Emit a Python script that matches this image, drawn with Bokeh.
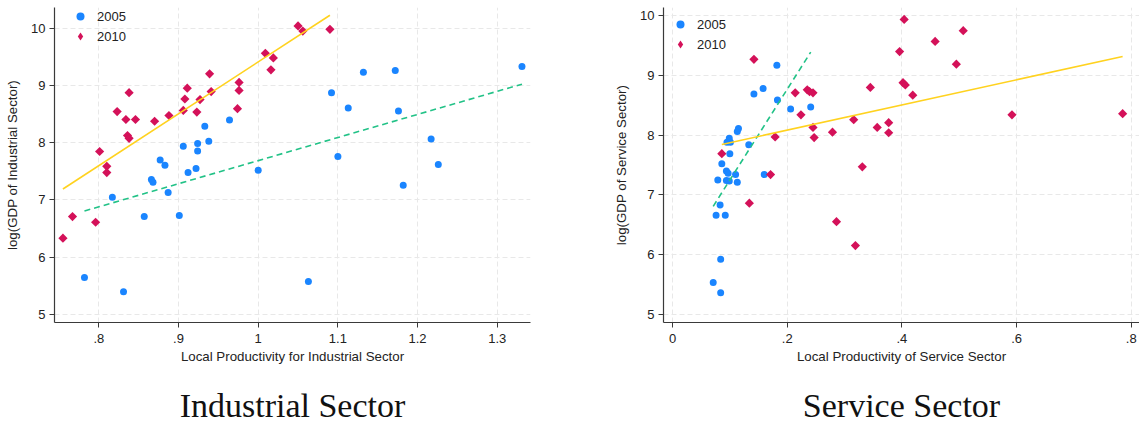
import numpy as np
from bokeh.plotting import figure
from bokeh.models import Range1d, FixedTicker, Legend, LegendItem, LinearAxis
from bokeh.layouts import row
from bokeh.embed import file_html
from bokeh.resources import INLINE

# ---------------- data ----------------
ind05_x = [0.817, 0.866, 0.868, 0.877, 0.883, 0.887, 0.906, 0.912, 0.922, 0.924,
           0.924, 0.933, 0.938, 0.964, 1.000, 1.092, 1.113, 1.132, 1.172, 1.176,
           1.100, 1.217, 1.226, 1.182, 1.331, 0.857, 0.901, 0.782, 0.831, 1.063]
ind05_y = [7.05, 7.36, 7.31, 7.70, 7.61, 7.13, 7.94, 7.48, 7.55, 7.99,
           7.86, 8.29, 8.03, 8.40, 7.52, 8.88, 8.61, 9.24, 9.27, 8.56,
           7.76, 8.07, 7.62, 7.26, 9.34, 6.71, 6.73, 5.64, 5.39, 5.57]

ind10_x = [0.801, 0.810, 0.810, 0.823, 0.834, 0.838, 0.836, 0.838, 0.846, 0.870,
           0.888, 0.906, 0.908, 0.911, 0.923, 0.927, 0.939, 0.941, 0.974, 0.976,
           0.976, 1.009, 1.019, 1.016, 1.050, 1.056, 1.090, 0.755, 0.767, 0.796]
ind10_y = [7.85, 7.59, 7.48, 8.55, 8.41, 8.88, 8.13, 8.08, 8.41, 8.38,
           8.48, 8.57, 8.77, 8.96, 8.54, 8.76, 9.21, 8.90, 8.60, 9.06,
           8.92, 9.57, 9.49, 9.28, 10.05, 9.96, 9.99, 6.33, 6.71, 6.61]

srv05_x = [0.079, 0.086, 0.094, 0.097, 0.094, 0.099, 0.095, 0.099, 0.101, 0.100,
           0.110, 0.113, 0.113, 0.115, 0.133, 0.142, 0.158, 0.160, 0.182, 0.183,
           0.206, 0.241, 0.083, 0.076, 0.092, 0.084, 0.071, 0.084]
srv05_y = [7.25, 7.52, 7.40, 7.36, 7.24, 7.23, 7.88, 7.95, 7.88, 7.69,
           7.34, 7.21, 8.06, 8.11, 7.84, 8.69, 8.78, 7.34, 9.17, 8.59,
           8.44, 8.47, 6.83, 6.66, 6.66, 5.92, 5.53, 5.36]

srv10_x = [0.086, 0.142, 0.134, 0.171, 0.179, 0.214, 0.224, 0.235, 0.239, 0.245,
           0.245, 0.247, 0.279, 0.316, 0.331, 0.345, 0.357, 0.286, 0.319, 0.377,
           0.377, 0.396, 0.402, 0.406, 0.404, 0.419, 0.458, 0.495, 0.507, 0.592,
           0.785]
srv10_y = [7.69, 9.27, 6.86, 7.34, 7.97, 8.71, 8.34, 8.76, 8.73, 8.71,
           8.13, 7.96, 8.05, 8.26, 7.47, 8.80, 8.13, 6.55, 6.15, 8.21,
           8.04, 9.40, 8.88, 8.84, 9.94, 8.67, 9.57, 9.19, 9.75, 8.34,
           8.36]

series_labels = ["2005", "2010"]
y_ticks = [5, 6, 7, 8, 9, 10]
y_labels = ["5", "6", "7", "8", "9", "10"]
ind_x_ticks = [0.8, 0.9, 1.0, 1.1, 1.2, 1.3]
ind_x_labels = [".8", ".9", "1", "1.1", "1.2", "1.3"]
srv_x_ticks = [0.0, 0.2, 0.4, 0.6, 0.8]
srv_x_labels = ["0", ".2", ".4", ".6", ".8"]

BLUE = "#1A85FF"
RED = "#D41159"
GREEN = "#22C287"
YELLOW = "#FFD21F"
AXIS = "#3a3a3a"
GRID = "#E8E8E8"
SANS = "Liberation Sans"
SERIF = "Liberation Serif"


def panel(x05, y05, x10, y10, xr, yr, xticks, xlabels, xlabel, ylabel, title,
          width, border_left, border_right, legend_loc):
    p = figure(width=width, height=426, x_range=Range1d(*xr), y_range=Range1d(*yr),
               output_backend="svg", toolbar_location=None,
               min_border_left=border_left, min_border_right=border_right,
               min_border_top=7, min_border_bottom=104)
    p.outline_line_color = None
    p.background_fill_color = "white"
    p.border_fill_color = "white"

    p.xaxis.ticker = FixedTicker(ticks=xticks)
    p.yaxis.ticker = FixedTicker(ticks=y_ticks)
    p.xaxis.major_label_overrides = dict(zip(xticks, xlabels))
    p.yaxis.major_label_overrides = dict(zip(y_ticks, y_labels))
    p.xgrid.ticker = FixedTicker(ticks=xticks)
    p.ygrid.ticker = FixedTicker(ticks=y_ticks)
    p.grid.grid_line_color = GRID
    p.grid.grid_line_dash = "5 3"
    p.grid.grid_line_width = 1

    for ax in (p.xaxis, p.yaxis):
        ax.axis_line_color = AXIS
        ax.axis_line_width = 1.2
        ax.major_tick_line_color = AXIS
        ax.major_tick_in = 0
        ax.major_tick_out = 5
        ax.minor_tick_line_color = None
        ax.major_label_text_font = SANS
        ax.major_label_text_font_size = "13px"
        ax.major_label_text_color = "#222222"
        ax.axis_label_text_font = SANS
        ax.axis_label_text_font_size = "13.3px"
        ax.axis_label_text_font_style = "normal"
        ax.axis_label_text_color = "#222222"
    p.xaxis.major_label_standoff = 6
    p.yaxis.major_label_standoff = 4
    p.xaxis.axis_label = xlabel
    p.yaxis.axis_label = ylabel
    p.xaxis.axis_label_standoff = 3
    p.yaxis.axis_label_standoff = 8
    p.yaxis.major_label_orientation = "horizontal"

    r05 = p.scatter(x05, y05, marker="circle", size=7, color=BLUE, line_color=None)
    p.scatter(x10, y10, marker="square", angle=np.pi / 4, size=6.5,
              color=RED, line_color=None)
    # legend key only (Bokeh never rotates legend glyphs); NaN point is not drawn
    r10_key = p.scatter(x=[np.nan], y=[np.nan], marker="diamond", size=9,
                        color=RED, line_color=None)

    # linear fits computed from the data
    b05, a05 = np.polyfit(x05, y05, 1)
    xs05 = np.array([min(x05), max(x05)])
    p.line(xs05, a05 + b05 * xs05, line_color=GREEN, line_width=1.6, line_dash="6 4")
    b10, a10 = np.polyfit(x10, y10, 1)
    xs10 = np.array([min(x10), max(x10)])
    p.line(xs10, a10 + b10 * xs10, line_color=YELLOW, line_width=1.6)

    legend = Legend(items=[LegendItem(label=series_labels[0], renderers=[r05]),
                           LegendItem(label=series_labels[1], renderers=[r10_key])],
                    location=legend_loc, padding=0, margin=0, spacing=0,
                    glyph_width=20, glyph_height=20, label_height=20,
                    label_standoff=7, label_text_font=SANS,
                    label_text_font_size="13px", label_text_color="#222222",
                    border_line_color=None, background_fill_alpha=0)
    p.add_layout(legend)

    # panel caption: a tick-less axis below the x axis carries the caption text
    cap = LinearAxis(ticker=FixedTicker(ticks=[]), axis_label=title,
                     axis_line_color=None, major_tick_line_color=None,
                     minor_tick_line_color=None, major_label_text_font_size="0px",
                     axis_label_standoff=20, axis_label_text_font=SERIF,
                     axis_label_text_font_size="34px",
                     axis_label_text_font_style="normal",
                     axis_label_text_color="#111111")
    p.add_layout(cap, "below")
    return p


p1 = panel(ind05_x, ind05_y, ind10_x, ind10_y, (0.7444, 1.3417), (4.853, 10.373),
           ind_x_ticks, ind_x_labels, "Local Productivity for Industrial Sector",
           "log(GDP of Industrial Sector)", "Industrial Sector",
           608, 54, 78, (16, 276))
p2 = panel(srv05_x, srv05_y, srv10_x, srv10_y, (-0.0157, 0.8144), (4.861, 10.139),
           srv_x_ticks, srv_x_labels, "Local Productivity of Service Sector",
           "log(GDP of Service Sector)", "Service Sector",
           531, 55, 0, (7, 268))

layout = row(p1, p2)
open("out.html", "w").write(file_html(layout, INLINE))
